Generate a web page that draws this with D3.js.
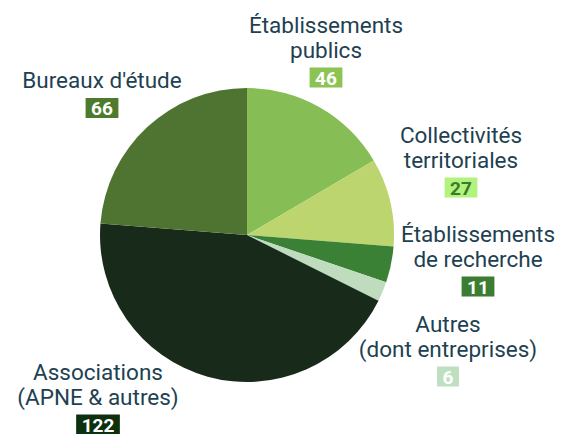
<!DOCTYPE html>
<html>
<head>
<meta charset="utf-8">
<script src="https://cdn.jsdelivr.net/npm/d3@7"></script>
<style>
  body { margin: 0; background: #fff; }
  svg text { font-family: Roboto, "Noto Sans", sans-serif; }
</style>
</head>
<body>
<svg id="chart" width="561" height="434"></svg>
<script>
// data
var categories = ['Établissements publics', 'Collectivités territoriales', 'Établissements de recherche', 'Autres (dont entreprises)', 'Associations (APNE & autres)', "Bureaux d'étude"]
var values = [46, 27, 11, 6, 122, 66]
var labelLines = [
  ['Établissements', 'publics'],
  ['Collectivités', 'territoriales'],
  ['Établissements', 'de recherche'],
  ['Autres', '(dont entreprises)'],
  ['Associations', '(APNE & autres)'],
  ["Bureaux d'étude"]
]

// styles
var sliceColors = ['#86bd55', '#bcd56f', '#3a8136', '#c0dcbf', '#182b1a', '#4f7330']
var boxColors = ['#8cc454', '#b3f27c', '#3b7d33', '#bfe0c0', '#0d300f', '#4e7a2e']
var boxText = ['#fff', '#3a7a2f', '#fff', '#fff', '#fff', '#fff']
// label anchor (centre x, first line baseline y)
var labelPos = [[326, 33], [461, 143], [478, 242], [448, 332], [98, 380], [102, 88]]

var svg = d3.select('#chart')
var cx = 247, cy = 235, r = 147

var pie = d3.pie().sort(null).value(function(d) { return d })
var arc = d3.arc().innerRadius(0).outerRadius(r)

var g = svg.append('g').attr('transform', 'translate(' + cx + ',' + cy + ')')
g.selectAll('path')
  .data(pie(values))
  .enter().append('path')
    .attr('d', arc)
    .attr('fill', function(d, i) { return sliceColors[i] })

var lineH = 24.5
var labels = svg.selectAll('.label')
  .data(categories)
  .enter().append('g')
    .attr('class', 'label')
    .attr('transform', function(d, i) { return 'translate(' + labelPos[i][0] + ',' + labelPos[i][1] + ')' })

labels.each(function(d, i) {
  var el = d3.select(this)
  labelLines[i].forEach(function(t, j) {
    el.append('text')
      .attr('y', j * lineH)
      .attr('text-anchor', 'middle')
      .attr('fill', '#1e4152')
      .style('font-size', '22.5px')
      .text(t)
  })
  var by = (labelLines[i].length - 1) * lineH + 10
  var txt = el.append('text')
    .attr('y', by + 17)
    .attr('text-anchor', 'middle')
    .attr('fill', boxText[i])
    .style('font-size', '19px')
    .style('font-weight', 'bold')
    .text(values[i])
  var w = txt.node().getComputedTextLength() + 11
  el.insert('rect', 'text:last-child')
    .attr('x', -w / 2)
    .attr('y', by)
    .attr('width', w)
    .attr('height', 20)
    .attr('fill', boxColors[i])
})
</script>
</body>
</html>
